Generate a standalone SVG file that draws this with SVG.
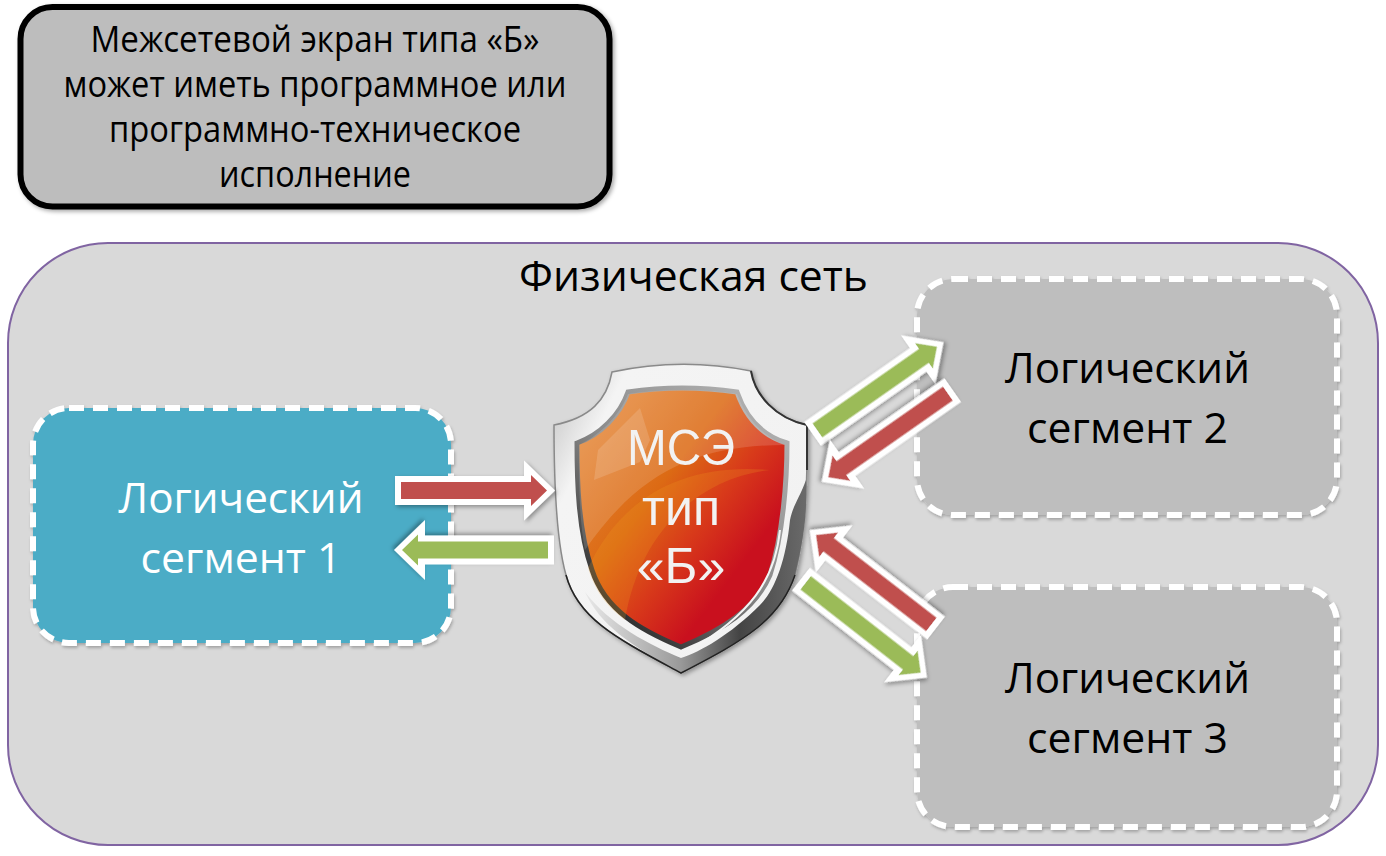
<svg xmlns="http://www.w3.org/2000/svg" width="1386" height="856" viewBox="0 0 1386 856">
<style>
.a{filter:url(#sh)}
.r{fill:#c0504d}.g{fill:#9bbb59}
.seg{stroke:#fff;stroke-width:6;stroke-dasharray:15 9;filter:url(#sh2)}
text{font-family:"Open Sans","Noto Sans",sans-serif;text-anchor:middle}
.l{font-size:42px;fill:#000}
.w{font-size:42px;fill:#fff}
.n{font-size:36px;fill:#000}
.m{font-family:"Liberation Sans",Arial,sans-serif;font-size:50px;fill:#f2f2f2}
</style>
<defs>
<filter id="sh" x="-15%" y="-15%" width="130%" height="130%"><feDropShadow dx="2" dy="2" stdDeviation="2" flood-color="#000" flood-opacity=".35"/></filter>
<filter id="sh2" x="-5%" y="-5%" width="110%" height="110%"><feDropShadow dx="1" dy="2" stdDeviation="1.500" flood-color="#000" flood-opacity=".25"/></filter>
<linearGradient id="ring" x1="0" y1="0" x2="1" y2=".6"><stop offset="0" stop-color="#bdbdbd"/><stop offset=".22" stop-color="#f4f4f4"/><stop offset="1" stop-color="#f2f2f2"/></linearGradient>
<linearGradient id="band" gradientUnits="userSpaceOnUse" x1="585" y1="0" x2="806" y2="0"><stop offset="0" stop-color="#e8e8e8"/><stop offset=".43" stop-color="#9a9a9a"/><stop offset=".7" stop-color="#444"/><stop offset="1" stop-color="#6a6a6a"/></linearGradient>
<linearGradient id="rim" x1=".8" y1="0" x2=".1" y2=".9"><stop offset="0" stop-color="#b0b0b0"/><stop offset=".5" stop-color="#8a8a8a"/><stop offset="1" stop-color="#222"/></linearGradient>
<linearGradient id="fire" x1=".05" y1=".1" x2=".85" y2=".85"><stop offset="0" stop-color="#e58a3c"/><stop offset=".4" stop-color="#dc6a14"/><stop offset=".62" stop-color="#d83a1a"/><stop offset=".85" stop-color="#c9101e"/><stop offset="1" stop-color="#c9101e"/></linearGradient>
<g id="arrow"><path fill="#fff" d="M8 0L-23-30V-14.500H-152V14.500H-23V30Z"/><path d="M0 0L-16-15.500V-8.500H-146V8.500H-16V15.500Z"/></g>
</defs>
<g id="note"><rect x="20.500" y="7" width="589" height="199.500" rx="32" fill="#bdbdbd" stroke="#000" stroke-width="6" filter="url(#sh)"/>
<text class="n" x="315" y="52" textLength="449" lengthAdjust="spacingAndGlyphs">Межсетевой экран типа «Б»</text>
<text class="n" x="315" y="97" textLength="503" lengthAdjust="spacingAndGlyphs">может иметь программное или</text>
<text class="n" x="315" y="142" textLength="412" lengthAdjust="spacingAndGlyphs">программно-техническое</text>
<text class="n" x="315" y="187" textLength="192" lengthAdjust="spacingAndGlyphs">исполнение</text></g>
<g id="network"><rect x="8" y="243" width="1370" height="602" rx="100" fill="#d9d9d9" stroke="#8064a2" stroke-width="2"/>
<text x="693.500" y="291" font-size="42" textLength="349" lengthAdjust="spacingAndGlyphs">Физическая сеть</text></g>
<g id="segment1"><rect class="seg" x="33" y="408" width="418" height="235" rx="36" fill="#4bacc6"/>
<text class="w" x="241" y="513" textLength="245" lengthAdjust="spacingAndGlyphs">Логический</text><text class="w" x="241" y="573" textLength="201" lengthAdjust="spacingAndGlyphs">сегмент 1</text></g>
<g id="segment2"><rect class="seg" x="917" y="279" width="420" height="236" rx="36" fill="#bebebe"/>
<text class="l" x="1127.500" y="383" textLength="245" lengthAdjust="spacingAndGlyphs">Логический</text><text class="l" x="1127.500" y="443" textLength="201" lengthAdjust="spacingAndGlyphs">сегмент 2</text></g>
<g id="segment3"><rect class="seg" x="917" y="587" width="420" height="240" rx="36" fill="#bebebe"/>
<text class="l" x="1127.500" y="693" textLength="245" lengthAdjust="spacingAndGlyphs">Логический</text><text class="l" x="1127.500" y="753" textLength="201" lengthAdjust="spacingAndGlyphs">сегмент 3</text></g>
<g id="firewall">
<path d="M612 372Q681 357 751 371C755 395 775 418 807 425C808 480 806 530 795 575C780 620 745 640 681 673C620 640 578 620 566 575C556 540 554 480 554 425C590 418 607 400 612 372Z" fill="url(#ring)" stroke="#8a8a8a" stroke-width="1.500" filter="url(#sh)"/>
<path d="M806 480C800 497 793 505 790 520C786 560 775 590 760 605C730 635 700 652 681 658C650 645 610 625 585 592C600 625 630 645 681 673C745 640 780 620 795 575C806 530 807 505 806 480Z" fill="url(#band)"/>
<path d="M751 371C755 395 775 418 807 425L807 470" fill="none" stroke="#333" stroke-width="2"/>
<path d="M566 575C578 620 620 640 681 673C745 640 780 620 795 575" fill="none" stroke="#222" stroke-width="1.500"/>
<path d="M628 392Q682 384 737 392C745 415 760 435 787 443C787 480 783 535 770 575C755 610 722 630 681 647C640 630 605 610 592 570C578 530 577 480 577 443C600 435 620 415 628 392Z" fill="url(#fire)" stroke="url(#rim)" stroke-width="5"/>
<path d="M780 530C775 580 750 615 690 650" fill="none" stroke="#f4f4f4" stroke-width="2"/>
<path d="M628 394Q682 386 737 394C745 415 760 435 785 445C700 445 640 470 585 550C579 520 579 480 579 445C600 435 620 415 628 394Z" fill="#fff" opacity=".14"/>
<path d="M588 568C620 500 680 462 770 470C700 478 640 530 625 620C605 605 595 590 588 568Z" fill="#f0a020" opacity=".22"/>
<path d="M640 408L650 440L640 462L594 480L598 450Z" fill="#fff" opacity=".14"/>
<text class="m" x="681" y="465" textLength="108" lengthAdjust="spacingAndGlyphs">МСЭ</text>
<text class="m" x="681" y="525">тип</text>
<text class="m" x="681" y="583">«Б»</text></g>
<g id="connectors">
<use href="#arrow" class="a r" transform="translate(547 490.500)"/>
<use href="#arrow" class="a g" transform="translate(402 550) rotate(180)"/>
<use href="#arrow" class="a g" transform="translate(937 346.700) rotate(-35)"/>
<use href="#arrow" class="a r" transform="translate(828.300 477.300) rotate(145)"/>
<use href="#arrow" class="a r" transform="translate(816 535) rotate(-142.200)"/>
<use href="#arrow" class="a g" transform="translate(920.700 672.700) rotate(38)"/>
</g>
</svg>
